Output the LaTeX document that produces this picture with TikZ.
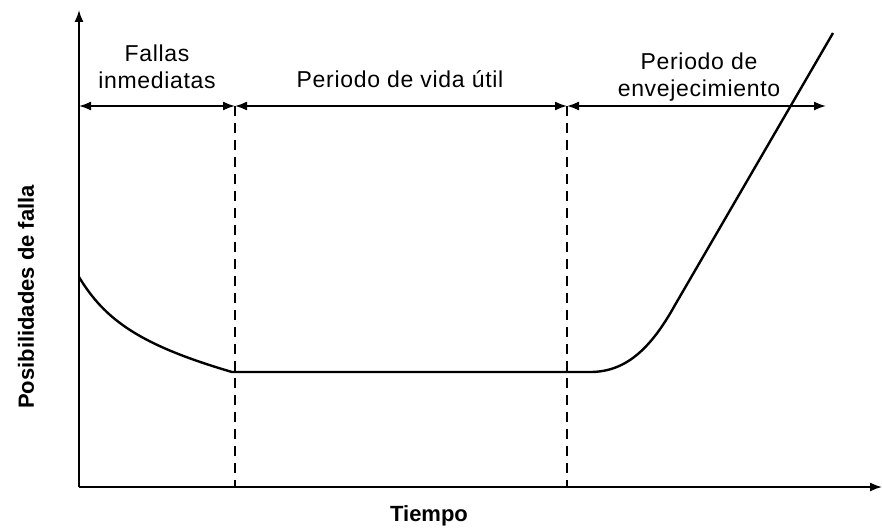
\documentclass[tikz,border=0pt]{standalone}
\usepackage{fontspec}
\setmainfont{Liberation Sans}
\newfontfamily\lblfont[LetterSpace=3]{Liberation Sans}
\usetikzlibrary{arrows.meta}
\begin{document}
\begin{tikzpicture}[x=1pt,y=-1pt,
  axis/.style={line width=1.6pt,-{Latex[length=12pt,width=9pt]}},
  period/.style={line width=1.7pt,{Latex[length=12pt,width=9pt]}-{Latex[length=12pt,width=9pt]}},
  divider/.style={line width=1.4pt,dash pattern=on 10pt off 7pt},
  curve/.style={line width=2.4pt,line join=round},
  lbl/.style={font=\lblfont\fontsize{23}{27}\selectfont,align=center,inner sep=0pt,anchor=base},
  axlbl/.style={font=\fontsize{22}{26}\selectfont\bfseries,inner sep=0pt}]
\useasboundingbox (0,0) rectangle (882,527);
% coordinates
\coordinate (O) at (79,487);
\coordinate (Ytop) at (79,10);
\coordinate (Xend) at (882,487);
\coordinate (A) at (79,106);
\coordinate (B) at (235,106);
\coordinate (C) at (567,106);
\coordinate (D) at (826,106);
\coordinate (Bb) at (235,487);
\coordinate (Cb) at (567,487);
% axes
\draw[axis] (O) -- (Ytop);
\draw[axis] (O) -- (Xend);
% dividers
\draw[divider] (B) -- (Bb);
\draw[divider] (C) -- (Cb);
% period arrows
\draw[period] (A) -- (B);
\draw[period] (B) -- (C);
\draw[period] (C) -- (D);
% curve
\coordinate (s) at (79,277);
\coordinate (k1) at (232,372);
\coordinate (k2) at (590,372);
\coordinate (k3) at (675,305);
\coordinate (e) at (833,33);
\draw[curve] (s) .. controls (105,320) and (140,345) .. (k1) -- (k2)
  .. controls (625,372) and (650,350) .. (k3) -- (e);
% labels
\node[lbl] (l1) at (157,88) {Fallas\\inmediatas};
\node[lbl] (l2) at (400,87) {Periodo de vida útil};
\node[lbl] (l3) at (699,96) {Periodo de\\envejecimiento};
\node[axlbl,rotate=90] (ly) at (26,297) {Posibilidades de falla};
\node[axlbl,anchor=base] (lx) at (429,521) {Tiempo};
\end{tikzpicture}
\end{document}
